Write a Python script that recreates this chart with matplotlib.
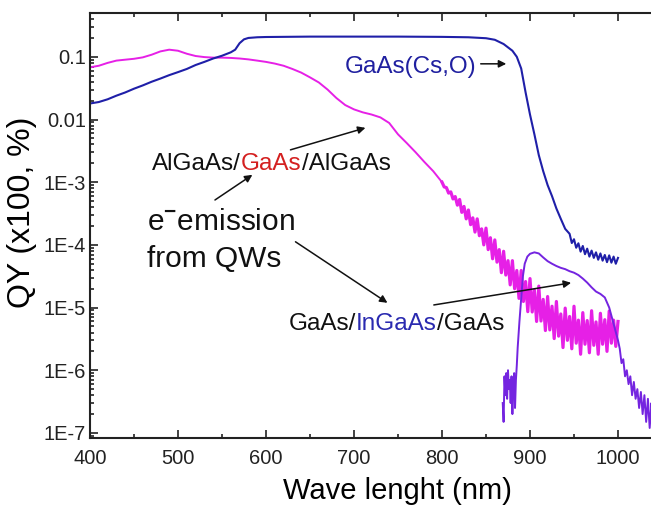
import matplotlib
matplotlib.use('Agg')
import matplotlib.pyplot as plt
from matplotlib.ticker import FixedLocator, FixedFormatter, LogLocator, NullFormatter, MultipleLocator
import numpy as np

plt.rcParams['font.family'] = ['Liberation Sans', 'DejaVu Sans']
plt.rcParams['mathtext.fontset'] = 'custom'
plt.rcParams['mathtext.rm'] = 'Liberation Sans'
plt.rcParams['mathtext.bf'] = 'Liberation Sans:bold'

# ---------------- data ----------------
x_ticks = [400, 500, 600, 700, 800, 900, 1000]
y_ticks = [1e-7, 1e-6, 1e-5, 1e-4, 1e-3, 1e-2, 1e-1]
y_tick_labels = ['1E-7', '1E-6', '1E-5', '1E-4', '1E-3', '0.01', '0.1']

# GaAs(Cs,O)
blue_nm = [400, 405, 410, 420, 430, 440, 450, 460, 470, 480, 490, 500, 510, 520, 530, 540,
           550, 560, 565, 570, 575, 580, 590, 600, 650, 700, 750, 800, 830, 850, 860, 870,
           880, 885, 890, 895, 900, 905, 910, 915, 920, 925, 930, 935, 940,
           945, 947.5, 950, 952.5, 955, 957.5, 960, 962.5, 965, 967.5, 970, 972.5, 975,
           977.5, 980, 982.5, 985, 987.5, 990, 992.5, 995, 997.5, 1000]
blue_qy = [0.018, 0.0185, 0.019, 0.021, 0.024, 0.027, 0.031, 0.035, 0.040, 0.045, 0.051,
           0.057, 0.064, 0.074, 0.083, 0.094, 0.104, 0.118, 0.13, 0.165, 0.19, 0.2, 0.205,
           0.207, 0.21, 0.21, 0.21, 0.208, 0.205, 0.198, 0.187, 0.16, 0.125, 0.1, 0.065,
           0.027, 0.012, 0.0058, 0.0027, 0.0015, 9.0e-4, 6.0e-4, 3.8e-4, 2.6e-4, 1.8e-4,
           1.5e-4, 1.07e-4, 1.23e-4, 9.0e-5, 1.06e-4, 7.8e-5, 9.6e-5, 7.1e-5, 8.7e-5, 6.5e-5,
           8.1e-5, 6.2e-5, 7.6e-5, 5.8e-5, 7.3e-5, 5.6e-5, 6.9e-5, 5.3e-5, 6.8e-5, 5.2e-5,
           6.5e-5, 5.0e-5, 6.2e-5]

# AlGaAs/GaAs/AlGaAs
alg_nm = [400, 410, 420, 430, 440, 450, 460, 470, 480, 490, 500, 510, 520, 530, 540, 550,
          560, 570, 580, 590, 600, 610, 620, 630, 640, 650, 660, 670, 680, 690, 700, 710,
          720, 730, 740, 750, 760, 770, 780, 790,
          800, 802.5, 805, 807.5, 810, 812.5, 815, 817.5, 820, 822.5, 825, 827.5, 830, 832.5,
          835, 837.5, 840, 842.5, 845, 847.5, 850, 852.5, 855, 857.5, 860, 862.5, 865, 867.5,
          870, 872.5, 875, 877.5, 880, 882.5, 885, 887.5, 890, 892.5, 895, 897.5, 900, 902.5,
          905, 907.5, 910, 912.5, 915, 917.5, 920, 922.5, 925, 927.5, 930, 932.5, 935, 937.5,
          940, 942.5, 945, 947.5, 950, 952.5, 955, 957.5, 960, 962.5, 965, 967.5, 970, 972.5,
          975, 977.5, 980, 982.5, 985, 987.5, 990, 992.5, 995, 997.5, 1000]
alg_qy = [0.068, 0.072, 0.08, 0.087, 0.09, 0.093, 0.098, 0.108, 0.122, 0.13, 0.125, 0.112,
          0.103, 0.099, 0.097, 0.097, 0.096, 0.094, 0.091, 0.087, 0.083, 0.078, 0.072, 0.064,
          0.056, 0.047, 0.039, 0.030, 0.022, 0.017, 0.0145, 0.013, 0.012, 0.0108, 0.0088,
          0.0058, 0.0042, 0.0030, 0.0021, 0.0015,
          1.0e-3, 8.4e-4, 8.2e-4, 6.7e-4, 7.0e-4, 5.4e-4, 5.9e-4, 4.3e-4, 5.3e-4, 3.3e-4,
          4.1e-4, 2.6e-4, 3.6e-4, 2.1e-4, 2.7e-4, 1.6e-4, 2.6e-4, 1.4e-4, 1.8e-4, 1.0e-4,
          1.85e-4, 8.4e-5, 1.3e-4, 6.0e-5, 1.2e-4, 5.3e-5, 8.4e-5, 3.6e-5, 7.9e-5, 3.3e-5,
          5.6e-5, 2.3e-5, 5.6e-5, 2.0e-5, 3.9e-5, 1.4e-5, 3.9e-5, 1.25e-5, 2.6e-5, 8.6e-6,
          2.9e-5, 8.5e-6, 1.9e-5, 6.0e-6, 2.2e-5, 6.1e-6, 1.35e-5, 4.3e-6, 1.5e-5, 4.4e-6,
          1.05e-5, 3.2e-6, 1.25e-5, 3.5e-6, 7.9e-6, 2.3e-6, 9.8e-6, 3.0e-6, 7.2e-6, 2.2e-6,
          1.05e-5, 2.7e-6, 6.3e-6, 1.8e-6, 8.3e-6, 2.6e-6, 6.2e-6, 1.9e-6, 8.9e-6, 2.5e-6,
          5.9e-6, 1.8e-6, 8.1e-6, 2.6e-6, 6.4e-6, 2.0e-6, 8.8e-6, 2.7e-6, 6.3e-6, 2.4e-6,
          6.0e-6]

# GaAs/InGaAs/GaAs
ing_nm = [869, 870, 871, 872, 873, 874, 875, 876, 877, 878, 879, 880, 881, 882, 883, 884,
          885, 886, 888, 890, 892, 894, 897, 900, 905, 910, 915, 920, 925, 930, 935, 940,
          945, 950, 955, 960, 965, 970, 975, 980, 985, 990, 995, 1000, 1002, 1004, 1006,
          1008, 1010, 1012, 1014, 1016, 1018, 1020, 1022, 1024, 1026, 1028, 1030, 1032,
          1034, 1036, 1038, 1040]
ing_qy = [3e-7, 1.5e-7, 8e-7, 4e-7, 9e-7, 3.5e-7, 1e-6, 5e-7, 7e-7, 3e-7, 8e-7, 2e-7, 6e-7,
          9e-7, 2.5e-7, 7e-7, 1.2e-6, 2.3e-6, 6e-6, 1.4e-5, 3.2e-5, 5e-5, 6.5e-5, 7.2e-5,
          7.6e-5, 7.3e-5, 6.3e-5, 5.5e-5, 5.0e-5, 4.6e-5, 4.3e-5, 4.1e-5, 3.8e-5, 3.6e-5,
          3.3e-5, 2.9e-5, 2.5e-5, 2.1e-5, 1.8e-5, 1.65e-5, 1.45e-5, 1.0e-5, 5.5e-6, 3.0e-6,
          2.2e-6, 1.3e-6, 1.5e-6, 8e-7, 1.0e-6, 6e-7, 8e-7, 4e-7, 6.5e-7, 3.5e-7, 5e-7,
          2.5e-7, 4.5e-7, 2e-7, 4e-7, 1.5e-7, 3.5e-7, 1.2e-7, 3e-7, 1.5e-7]

# ---------------- figure ----------------
fig = plt.figure(figsize=(6.51, 5.05), dpi=100)
ax = fig.add_axes([90/651, 67/505, 572/651, 425/505])
ax.set_yscale('log')
ax.set_xlim(400, 1050)
ax.set_ylim(8.3e-8, 0.5)

c_blue = '#1f1fa8'
c_mag = '#e620e6'
c_pur = '#7424e0'
n_smooth = 40
ax.plot(alg_nm[:n_smooth + 1], alg_qy[:n_smooth + 1], color=c_mag, lw=1.4)
ax.plot(alg_nm[n_smooth:], alg_qy[n_smooth:], color=c_mag, lw=2.3)
ax.plot(blue_nm, blue_qy, color=c_blue, lw=1.5)
ax.plot(ing_nm, ing_qy, color=c_pur, lw=1.4)

ax.xaxis.set_major_locator(FixedLocator(x_ticks))
ax.xaxis.set_minor_locator(MultipleLocator(50))
ax.yaxis.set_major_locator(FixedLocator(y_ticks))
ax.yaxis.set_major_formatter(FixedFormatter(y_tick_labels))
ax.yaxis.set_minor_locator(LogLocator(base=10, subs=np.arange(2, 10), numticks=30))
ax.yaxis.set_minor_formatter(NullFormatter())
ax.tick_params(which='both', direction='in', top=True, right=True, width=1.2, colors='#222222')
ax.tick_params(which='major', length=6, labelsize=14.5)
ax.tick_params(which='minor', length=3)
ax.tick_params(axis='x', pad=8)
ax.tick_params(axis='y', pad=3)
for s in ax.spines.values():
    s.set_linewidth(1.5)
    s.set_color('#222222')

ax.set_xlabel('Wave lenght (nm)', fontsize=21)
ax.xaxis.set_label_coords(0.538, -0.092)
ax.set_ylabel('QY (x100, %)', fontsize=23)
ax.yaxis.set_label_coords(-0.0927, 0.532)

FS = 17.5


def colored_text(x, y, pieces, fs):
    prev = ax.text(x, y, pieces[0][0], color=pieces[0][1], fontsize=fs, ha='left', va='baseline')
    for s, c in pieces[1:]:
        prev = ax.annotate(s, xy=(1, 0), xycoords=prev, xytext=(0, 0), textcoords='offset points',
                           color=c, fontsize=fs, ha='left', va='bottom')


colored_text(690, 0.0556, [('GaAs(Cs,O)', '#2020a0')], FS)
colored_text(470.6, 1.57e-3, [('AlGaAs/', '#111111'), ('GaAs', '#d42020'), ('/AlGaAs', '#111111')], FS)
colored_text(625.5, 4.4e-6, [('GaAs/', '#111111'), ('InGaAs', '#2a2ab0'), ('/GaAs', '#111111')], FS)
ax.text(465, 1.74e-4, r'e$^{\mathbf{-}}$emission', fontsize=21.5, color='#111111', ha='left', va='baseline')
ax.text(465, 4.46e-5, 'from QWs', fontsize=21.5, color='#111111', ha='left', va='baseline')

ap = dict(arrowstyle='-|>', color='#111111', lw=1.1, mutation_scale=11, shrinkA=0, shrinkB=0)
arrows = [((844, 0.0773), (873, 0.0773)),
          ((627.8, 3.28e-3), (713, 7.36e-3)),
          ((542, 5.2e-4), (584.5, 1.31e-3)),
          ((633.5, 1.12e-4), (738, 1.19e-5)),
          ((790.7, 1.1e-5), (946.7, 2.48e-5))]
for (x0, y0), (x1, y1) in arrows:
    ax.annotate('', xy=(x1, y1), xytext=(x0, y0), arrowprops=ap)

fig.savefig('out.png', dpi=100)
